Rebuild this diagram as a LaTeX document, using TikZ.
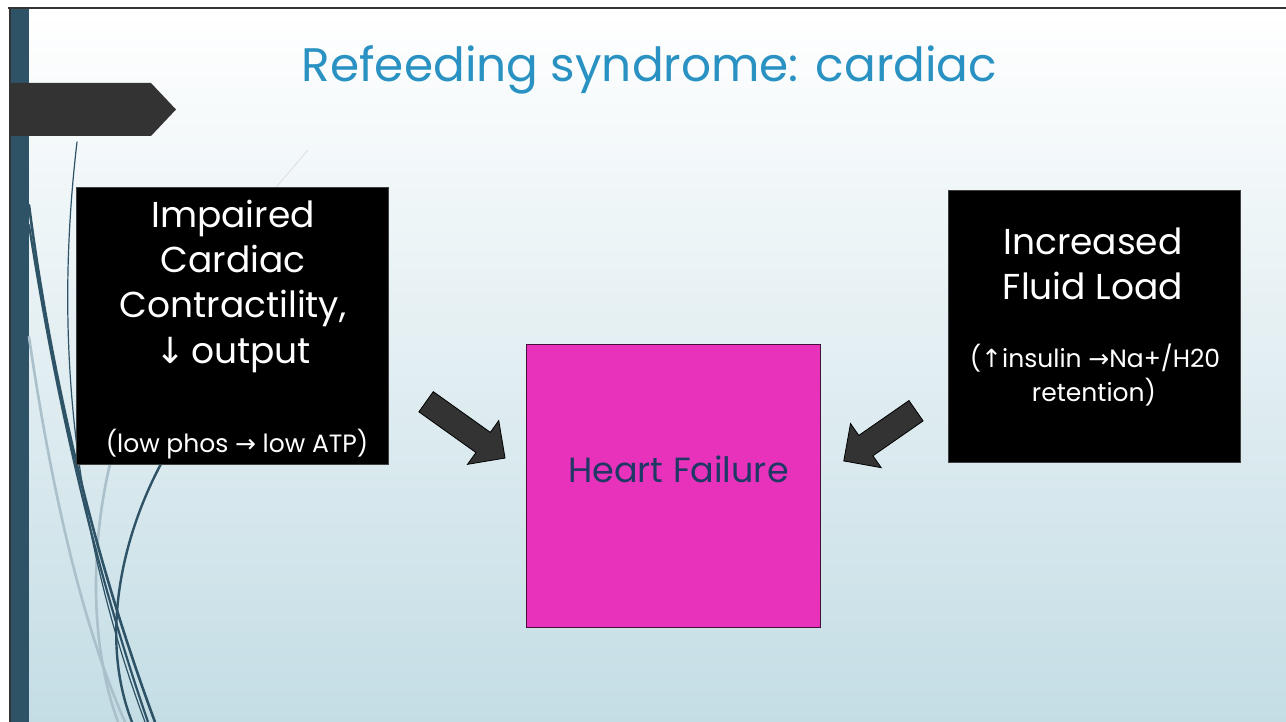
\documentclass[tikz,border=0pt]{standalone}
\usepackage{fontspec}
\setmainfont{Poppins}
\newfontfamily\arr{DejaVu Sans}
\usetikzlibrary{shapes.arrows}
\definecolor{titleblue}{RGB}{41,146,194}
\definecolor{barblue}{RGB}{46,82,102}
\definecolor{pentagray}{RGB}{51,51,51}
\definecolor{bgbot}{RGB}{196,221,229}
\definecolor{magentabox}{RGB}{232,50,188}
\definecolor{hfblue}{RGB}{31,56,100}
\definecolor{lightcurve}{RGB}{170,192,202}
\tikzset{
  blackbox/.style={fill=black, draw=black!75, line width=0.6pt, inner sep=0pt},
  bigtxt/.style={text=white, anchor=base, inner sep=0pt, font=\fontsize{36}{42}\selectfont},
  smalltxt/.style={text=white, anchor=base, inner sep=0pt, font=\fontsize{25}{30}\selectfont},
  blockarrow/.style={single arrow, fill=pentagray, draw=black, line width=0.8pt,
    inner sep=0pt, single arrow head extend=14.5pt, single arrow head indent=0pt,
    minimum width=53pt},
  darkcurve/.style={draw=barblue, line cap=round},
  lightc/.style={draw=lightcurve, line cap=round, line width=2.6pt}
}
\begin{document}
\begin{tikzpicture}[x=1pt,y=-1pt]
\useasboundingbox (0,0) rectangle (1286,722);
\fill[white] (0,0) rectangle (1286,722);
\shade[top color=white, bottom color=bgbot] (10,9) rectangle (1286,722);
% frame lines
\draw[line width=2.2pt, black!80] (8,8) -- (1286,8);
\draw[line width=2.2pt, black!80] (10,8) -- (10,722);
% left bar
\fill[barblue] (11,9.2) rectangle (29,722);
% pentagon
\fill[pentagray] (11,83) -- (151,83) -- (176,109.5) -- (151,136) -- (11,136) -- cycle;
% decorative curves
\draw[draw=black!15, line width=0.6pt] (308,150) -- (272,192);
\draw[lightc] (29,337) .. controls (50,480) and (80,620) .. (125,722);
\draw[lightc] (110,464) .. controls (92,540) and (88,640) .. (118,722);
\draw[darkcurve, line width=1.2pt] (77,142) .. controls (55,330) and (70,520) .. (145,722);
\draw[darkcurve, line width=2.6pt] (29,205) .. controls (45,330) and (80,520) .. (155,722);
\draw[darkcurve, line width=2.2pt] (29,225) .. controls (50,360) and (85,540) .. (148,722);
\draw[darkcurve, line width=2.4pt] (162,462) .. controls (120,540) and (100,640) .. (132,722);
% title
\node[text=titleblue, anchor=base, inner sep=0pt, font=\fontsize{47}{54}\selectfont] (title) at (649.5,82) {Refeeding syndrome: cardiac};
% left box
\node[blackbox, minimum width=312pt, minimum height=277pt] (impaired) at (232,325.5) {};
\node[bigtxt] (imp1) at (233,228) {Impaired};
\node[bigtxt] (imp2) at (233,273) {Cardiac};
\node[bigtxt] (imp3) at (233,318) {Contractility,};
\node[bigtxt] (imp4) at (233,363) {{\arr↓}\,output};
\node[smalltxt] (imp5) at (237,452) {(low phos {\arr→} low ATP)};
% right box
\node[blackbox, minimum width=292pt, minimum height=272pt] (fluid) at (1094,326) {};
\node[bigtxt] (fl1) at (1093,255) {Increased};
\node[bigtxt] (fl2) at (1093,300) {Fluid Load};
\node[smalltxt] (fl3) at (1095,367) {({\arr↑}insulin {\arr→}Na+/H20};
\node[smalltxt] (fl4) at (1094,401) {retention)};
% heart failure
\node[fill=magentabox, draw=black!70!magentabox, line width=0.8pt, minimum width=294pt, minimum height=283pt, inner sep=0pt] (hf) at (673,485.5) {};
\node[text=hfblue, anchor=base, inner sep=0pt, font=\fontsize{35}{42}\selectfont] (hftxt) at (678.5,482) {Heart Failure};
% block arrows
\node[blockarrow, minimum height=97pt, rotate=-35.5] (arrL) at (460.5,426.3) {\vrule width 0pt height 12pt depth 12pt};
\node[blockarrow, minimum height=88pt, rotate=214.8] (arrR) at (885,432.3) {\vrule width 0pt height 12pt depth 12pt};
\end{tikzpicture}
\end{document}
